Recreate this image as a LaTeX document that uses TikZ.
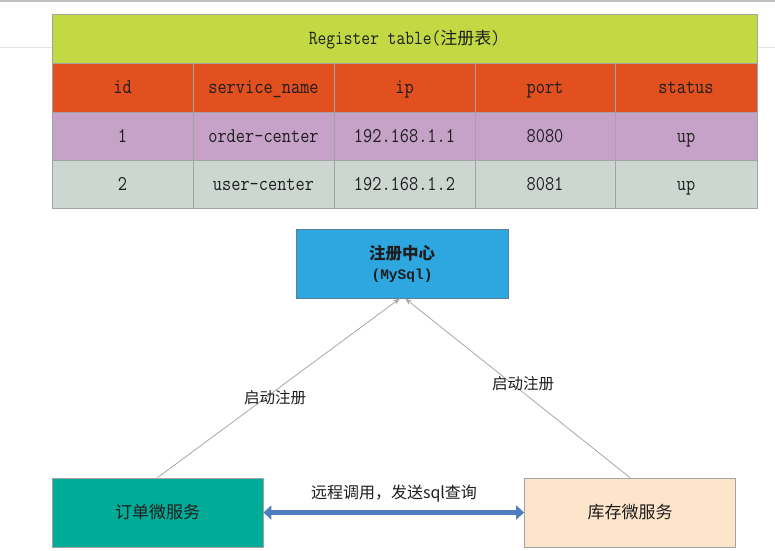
\documentclass[tikz,border=0pt]{standalone}
\usepackage{fontspec}
\setmainfont{Liberation Serif}
\newfontfamily\cjk{Noto Sans CJK SC}
\newfontfamily\monof[FakeStretch=0.85]{Latin Modern Mono}
\newfontfamily\monob{Liberation Mono}
\usetikzlibrary{arrows.meta}
\definecolor{titlegreen}{HTML}{C2D944}
\definecolor{headred}{HTML}{E2501F}
\definecolor{rowpurple}{HTML}{C6A2C9}
\definecolor{rowgray}{HTML}{CDD7D1}
\definecolor{gridgray}{HTML}{A3A3A3}
\definecolor{regblue}{HTML}{2EA7E0}
\definecolor{regborder}{HTML}{5A7F96}
\definecolor{orderteal}{HTML}{00AC98}
\definecolor{invpeach}{HTML}{FCE5CB}
\definecolor{arrowblue}{HTML}{4E7EBF}
\definecolor{linegray}{HTML}{A8A8A8}
\definecolor{txt}{HTML}{1E1E1E}
\tikzset{
  cell/.style={draw=gridgray, line width=0.8pt, inner sep=0pt, text=txt,
    text height=13pt, text depth=1pt,
    font=\monof\fontsize{21}{24}\selectfont},
  boxnode/.style={draw=gridgray, line width=0.8pt, inner sep=0pt, text=txt,
    minimum width=211pt, minimum height=69pt},
  reglink/.style={draw=linegray, line width=0.8pt, -{Stealth[length=7pt,width=5pt]}},
  lbl/.style={text=txt, inner sep=0pt, font=\cjk\fontsize{15.5}{18}\selectfont},
}
\begin{document}
\begin{tikzpicture}[x=1pt,y=-1pt]
\useasboundingbox (0,0) rectangle (775,550);
\fill[white] (0,0) rectangle (775,550);
% screenshot edge lines
\draw[draw=black!25, line width=2pt] (0,1) -- (775,1);
\draw[draw=black!10, line width=0.8pt] (0,47) -- (52,47);
\draw[draw=black!10, line width=0.8pt] (757,47) -- (775,47);
% table
\node[cell, fill=titlegreen, minimum width=705pt, minimum height=49pt,
  font=\monof\fontsize{20}{22}\selectfont] (title) at (404.5,38.5)
  {Register table({\cjk\fontsize{17}{20}\selectfont 注册表})};
\foreach \nm/\cx/\w [count=\i] in {id/122.5/141, service\_name/263.5/141, ip/404.5/141, port/545/140, status/686/142}{
  \node[cell, fill=headred, minimum width=\w pt, minimum height=49pt] (h\i) at (\cx,87.5) {\nm};
}
\foreach \nm/\cx/\w [count=\i] in {1/122.5/141, order-center/263.5/141, 192.168.1.1/404.5/141, 8080/545/140, up/686/142}{
  \node[cell, fill=rowpurple, minimum width=\w pt, minimum height=48pt] (a\i) at (\cx,136) {\nm};
}
\foreach \nm/\cx/\w [count=\i] in {2/122.5/141, user-center/263.5/141, 192.168.1.2/404.5/141, 8081/545/140, up/686/142}{
  \node[cell, fill=rowgray, minimum width=\w pt, minimum height=48pt] (b\i) at (\cx,184) {\nm};
}
% registry
\node[draw=regborder, line width=0.8pt, fill=regblue, minimum width=212pt, minimum height=69pt,
  inner sep=0pt, text=txt, align=center, font=\fontsize{16.5}{20}\selectfont] (reg) at (402,263.5)
  {{\cjk\bfseries 注册中心}\\{\monob\bfseries\fontsize{14.5}{20}\selectfont (MySql)}};
% services
\node[boxnode, fill=orderteal, font=\cjk\fontsize{17}{20}\selectfont] (order) at (157.5,512.5) {订单微服务};
\node[boxnode, fill=invpeach, font=\cjk\fontsize{17}{20}\selectfont] (inv) at (630,512.5) {库存微服务};
% registration links
\draw[reglink] (order.north) -- ([xshift=-2pt]reg.south);
\draw[reglink] (inv.north) -- ([xshift=3pt]reg.south);
\node[lbl] (l1) at (275,398) {启动注册};
\node[lbl] (l2) at (523,384) {启动注册};
% remote call
\draw[draw=arrowblue, fill=arrowblue, line width=5.5pt,
  {Triangle[length=8pt,width=14pt]}-{Triangle[length=8pt,width=14pt]}]
  (order.east) -- (inv.east -| inv.west);
\node[lbl, font=\cjk\fontsize{16}{18}\selectfont] (rc) at (394,494) {远程调用，发送sql查询};
\end{tikzpicture}
\end{document}
